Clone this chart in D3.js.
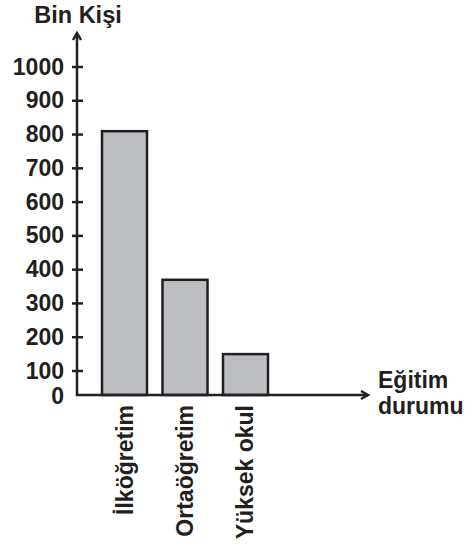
<!DOCTYPE html>
<html>
<head>
<meta charset="utf-8">
<script src="https://cdn.jsdelivr.net/npm/d3@7"></script>
<style>
  body { margin: 0; background: #fff; }
  text { font-family: "Liberation Sans", Arial, sans-serif; font-weight: bold; fill: #231f20; }
</style>
</head>
<body>
<div id="chart"></div>
<script>
// data
var categories = ["İlköğretim", "Ortaöğretim", "Yüksek okul"];
var values = [810, 370, 150];
var tickValues = [100, 200, 300, 400, 500, 600, 700, 800, 900, 1000];

var width = 473, height = 548;
var ink = "#231f20";

var svg = d3.select("#chart")
  .append("svg")
    .attr("width", width)
    .attr("height", height);

// the printed axis is not quite linear near zero
var y = d3.scaleLinear()
  .domain([0, 100, 1000])
  .range([395, 371, 67]);

var x = d3.scaleBand()
  .domain(categories)
  .range([102, 268])
  .paddingInner(0.256)
  .paddingOuter(0);

// bars
svg.selectAll("rect.bar")
  .data(values)
  .enter()
  .append("rect")
    .attr("class", "bar")
    .attr("x", function(d, i) { return x(categories[i]); })
    .attr("y", function(d) { return y(d); })
    .attr("width", x.bandwidth())
    .attr("height", function(d) { return y(0) - y(d); })
    .style("fill", "#bdbec2")
    .style("stroke", ink)
    .style("stroke-width", 2.5);

// y axis line + arrow
var axisX = 77;
svg.append("line")
  .attr("x1", axisX).attr("x2", axisX)
  .attr("y1", y(0) + 1).attr("y2", 33)
  .style("stroke", ink).style("stroke-width", 2.5);
svg.append("path")
  .attr("d", "M" + (axisX - 4) + ",40 L" + axisX + ",33 L" + (axisX + 4) + ",40")
  .style("fill", "none").style("stroke", ink).style("stroke-width", 2.5);

// ticks
svg.selectAll("line.tick")
  .data(tickValues)
  .enter()
  .append("line")
    .attr("class", "tick")
    .attr("x1", axisX - 5).attr("x2", axisX + 6)
    .attr("y1", function(d) { return y(d); })
    .attr("y2", function(d) { return y(d); })
    .style("stroke", ink).style("stroke-width", 2.5);

svg.selectAll("text.ylab")
  .data([0].concat(tickValues))
  .enter()
  .append("text")
    .attr("class", "ylab")
    .attr("x", 64)
    .attr("y", function(d) { return y(d) + (d === 0 ? 9 : 7.5); })
    .attr("text-anchor", "end")
    .style("font-size", "23px")
    .text(function(d) { return d; });

// x axis line + arrow
var axisEnd = 368;
svg.append("line")
  .attr("x1", axisX - 1).attr("x2", axisEnd)
  .attr("y1", y(0)).attr("y2", y(0))
  .style("stroke", ink).style("stroke-width", 2.5);
svg.append("path")
  .attr("d", "M" + (axisEnd - 7) + "," + (y(0) - 4) + " L" + axisEnd + "," + y(0) + " L" + (axisEnd - 7) + "," + (y(0) + 4))
  .style("fill", "none").style("stroke", ink).style("stroke-width", 2.5);

// category labels, rotated
svg.selectAll("text.xlab")
  .data(categories)
  .enter()
  .append("text")
    .attr("class", "xlab")
    .attr("transform", function(d) {
      return "translate(" + (x(d) + x.bandwidth() / 2 + 8) + "," + (y(0) + 10) + ") rotate(-90)";
    })
    .attr("text-anchor", "end")
    .style("font-size", "23px")
    .text(function(d) { return d; });

// axis titles
svg.append("text")
  .attr("x", 78).attr("y", 23)
  .attr("text-anchor", "middle")
  .style("font-size", "23.5px")
  .text("Bin Kişi");

svg.append("text")
  .attr("x", 378).attr("y", 388)
  .style("font-size", "23px")
  .text("Eğitim");
svg.append("text")
  .attr("x", 378).attr("y", 414)
  .style("font-size", "23px")
  .text("durumu");
</script>
</body>
</html>
